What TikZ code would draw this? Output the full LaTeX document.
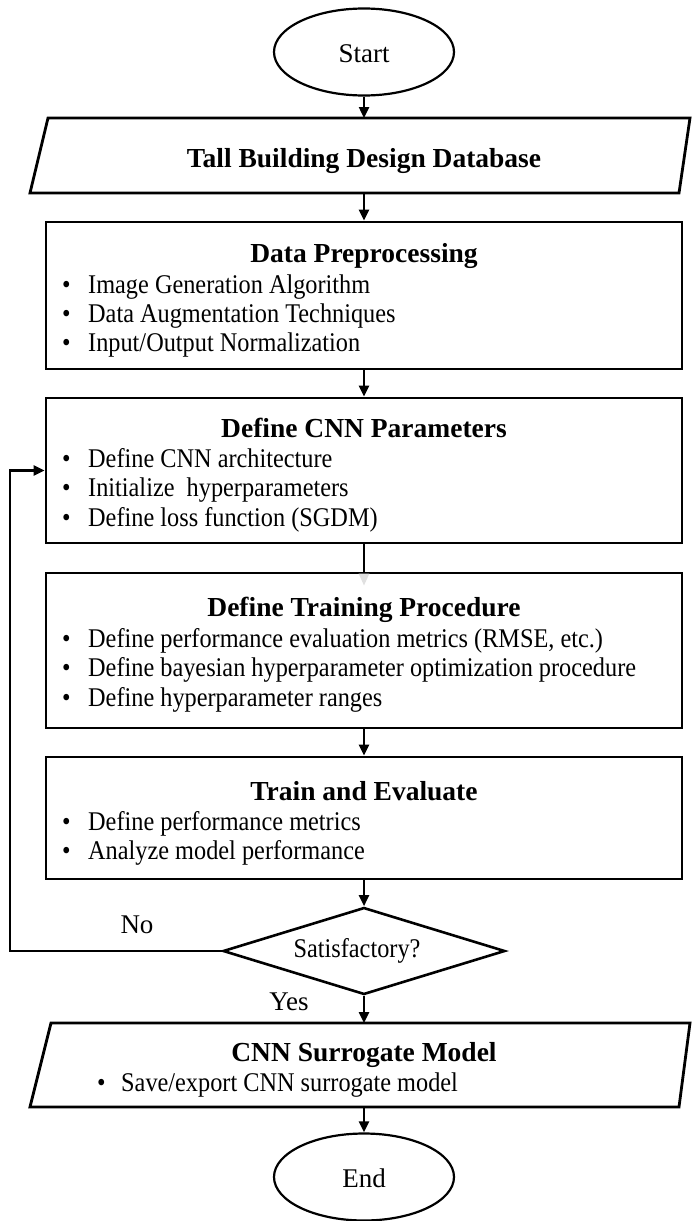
\documentclass[tikz,border=0pt]{standalone}
\usepackage{fontspec}
\setmainfont{Liberation Serif}
\newfontfamily\condfont[FakeStretch=0.9]{Liberation Serif}
\usetikzlibrary{shapes.geometric,arrows.meta}
\tikzset{
  term/.style={ellipse,draw,line width=2.2pt,minimum width=180pt,minimum height=87pt,inner sep=0pt},
  stepbox/.style={rectangle,draw,line width=2.8pt,minimum width=636pt,inner sep=0pt},
  decision/.style={diamond,draw,line width=2.6pt,minimum width=282pt,minimum height=87pt,inner sep=0pt,aspect=3.2},
  para/.style={draw,line width=2.8pt,line join=miter},
  arr/.style={line width=2.4pt,-{Triangle[length=11pt,width=10pt]}},
  ttl/.style={anchor=base,font=\fontsize{27.5}{30}\selectfont\bfseries,inner sep=0pt},
  lbl/.style={anchor=base,font=\fontsize{27}{30}\selectfont,inner sep=0pt},
  bul/.style={anchor=base west,font=\condfont\fontsize{27}{30}\selectfont,inner sep=0pt},
}
\begin{document}
\begin{tikzpicture}[x=1pt,y=-1pt]
\useasboundingbox (0,0) rectangle (691,1221);
\fill[white] (0,0) rectangle (691,1221);

% Start
\node[term] (start) at (364,52) {};
\node[lbl] (starttxt) at (364,62) {Start};

% Database parallelogram
\coordinate (dbtl) at (48,118);
\coordinate (dbtr) at (690,118);
\coordinate (dbbr) at (679,193);
\coordinate (dbbl) at (30,193);
\draw[para] (dbtl) -- (dbtr) -- (dbbr) -- (dbbl) -- cycle;
\coordinate (dbtop) at (364,118);
\coordinate (dbbot) at (364,193);
\node[ttl] (dbtxt) at (364,167) {Tall Building Design Database};

% Box 1
\node[stepbox,minimum height=147pt] (b1) at (364,295.5) {};
\node[ttl] (b1t) at (364,262) {Data Preprocessing};
\node[bul] (b1a) at (62,293) {\textbullet};
\node[bul] (b1ax) at (88,293) {Image Generation Algorithm};
\node[bul] (b1b) at (62,322) {\textbullet};
\node[bul] (b1bx) at (88,322) {Data Augmentation Techniques};
\node[bul] (b1c) at (62,351) {\textbullet};
\node[bul] (b1cx) at (88,351) {Input/Output Normalization};

% Box 2
\node[stepbox,minimum height=145pt] (b2) at (364,470.5) {};
\node[ttl] (b2t) at (364,437) {Define CNN Parameters};
\node[bul] (b2a) at (62,467) {\textbullet};
\node[bul] (b2ax) at (88,467) {Define CNN architecture};
\node[bul] (b2b) at (62,496) {\textbullet};
\node[bul] (b2bx) at (88,496) {Initialize\ \ hyperparameters};
\node[bul] (b2c) at (62,526) {\textbullet};
\node[bul] (b2cx) at (88,526) {Define loss function (SGDM)};

% Box 3
\node[stepbox,minimum height=155pt] (b3) at (364,650.5) {};
\node[ttl] (b3t) at (364,616) {Define Training Procedure};
\node[bul] (b3a) at (62,647) {\textbullet};
\node[bul] (b3ax) at (88,647) {Define performance evaluation metrics (RMSE, etc.)};
\node[bul] (b3b) at (62,676) {\textbullet};
\node[bul] (b3bx) at (88,676) {Define bayesian hyperparameter optimization procedure};
\node[bul] (b3c) at (62,706) {\textbullet};
\node[bul] (b3cx) at (88,706) {Define hyperparameter ranges};

% Box 4
\node[stepbox,minimum height=122pt] (b4) at (364,818) {};
\node[ttl] (b4t) at (364,800) {Train and Evaluate};
\node[bul] (b4a) at (62,830) {\textbullet};
\node[bul] (b4ax) at (88,830) {Define performance metrics};
\node[bul] (b4b) at (62,859) {\textbullet};
\node[bul] (b4bx) at (88,859) {Analyze model performance};

% Decision
\node[decision] (dec) at (364,951) {};
\node[lbl,font=\condfont\fontsize{27}{30}\selectfont] (dectxt) at (357,957) {Satisfactory?};
\node[lbl] (no) at (137,933) {No};
\node[lbl] (yes) at (289,1010) {Yes};

% Surrogate parallelogram
\coordinate (smtl) at (51,1023);
\coordinate (smtr) at (690,1023);
\coordinate (smbr) at (679,1107);
\coordinate (smbl) at (30,1107);
\draw[para] (smtl) -- (smtr) -- (smbr) -- (smbl) -- cycle;
\coordinate (smtop) at (364,1023);
\coordinate (smbot) at (364,1107);
\node[ttl] (smt) at (364,1061) {CNN Surrogate Model};
\node[bul] (sma) at (97,1091) {\textbullet};
\node[bul] (smax) at (121,1091) {Save/export CNN surrogate model};

% End
\node[term] (end) at (364,1177) {};
\node[lbl] (endtxt) at (364,1187) {End};

% Connectors
\draw[arr] (start.south) -- (dbtop);
\draw[arr] (dbbot) -- (b1.north);
\draw[arr] (b1.south) -- (b2.north);
\draw[line width=2.4pt,-{Triangle[length=12pt,width=10pt,color=black!12]}] (b2.south) -- ([yshift=-14pt]b3.north);
\draw[arr] (b3.south) -- (b4.north);
\draw[arr] (b4.south) -- (dec.north);
\coordinate (fb) at (10,951);
\draw[arr] (dec.west) -- (fb) |- (b2.west);
\draw[arr] (dec.south) -- (smtop);
\draw[arr] (smbot) -- (end.north);
\end{tikzpicture}
\end{document}
